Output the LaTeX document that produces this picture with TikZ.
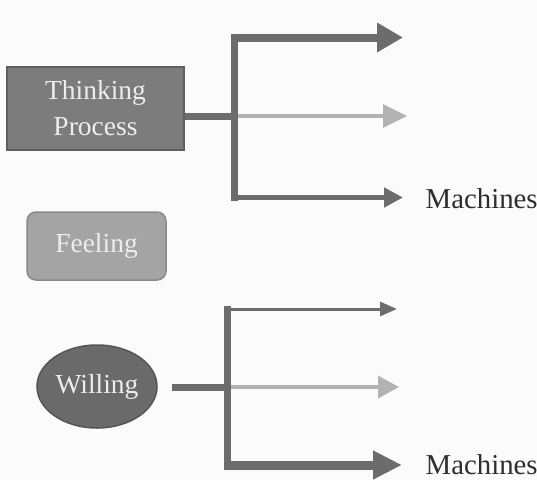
\documentclass[tikz,border=0pt]{standalone}
\usepackage{fontspec}
\setmainfont{Liberation Serif}
\usetikzlibrary{arrows.meta,shapes.geometric}

\definecolor{bgcol}{HTML}{FBFBFB}
\definecolor{darkline}{HTML}{6C6C6C}
\definecolor{lightline}{HTML}{B2B2B2}
\definecolor{thinkfill}{HTML}{7C7C7C}
\definecolor{thinkedge}{HTML}{5E5E5E}
\definecolor{feelfill}{HTML}{A4A4A4}
\definecolor{feeledge}{HTML}{8A8A8A}
\definecolor{willfill}{HTML}{6A6A6A}
\definecolor{willedge}{HTML}{555555}
\definecolor{shapetext}{HTML}{EDEDED}
\definecolor{labeltext}{HTML}{2E2E2E}

\tikzset{
  shapelabel/.style={text=shapetext, font=\fontsize{27.5}{36}\selectfont, align=center, inner sep=0pt},
  machlabel/.style={text=labeltext, font=\fontsize{28.8}{32}\selectfont, anchor=west, inner sep=0pt},
  stem/.style={darkline, line width=7pt},
  spine/.style={darkline, line width=7pt},
}

\begin{document}
\begin{tikzpicture}[x=1pt,y=-1pt]
  \fill[bgcol] (0,0) rectangle (537,480);
  \useasboundingbox (0,0) rectangle (537,480);

  % ---- Thinking process and its three outputs ----
  \node[shapelabel, draw=thinkedge, line width=1.5pt, fill=thinkfill,
        minimum width=177pt, minimum height=83pt] (tp) at (95.5,108.5)
        {Thinking\\Process};

  \coordinate (j1) at (234.5,116);
  \coordinate (v1top) at (234.5,33.5);
  \coordinate (v1bot) at (234.5,201);
  \coordinate (a1) at (403,37.5);
  \coordinate (a2) at (407,116);
  \coordinate (a3) at (403,197.5);

  \draw[spine] (v1top) -- (v1bot);
  \draw[stem] (tp.east |- j1) -- (j1);
  \draw[darkline, line width=8pt, -{Triangle[length=26pt,width=28pt]}]
        ([xshift=-3.5pt]v1top |- a1) -- (a1);
  \draw[lightline, line width=3.5pt, -{Triangle[length=24pt,width=23pt]}]
        ([xshift=3.5pt]j1) -- (a2);
  \draw[darkline, line width=5pt, -{Triangle[length=19pt,width=19pt]}]
        ([xshift=-3.5pt]v1bot |- a3) -- (a3);
  \node[machlabel] (m1) at (425.5,199) {Machines};

  % ---- Feeling ----
  \node[shapelabel, draw=feeledge, line width=1.5pt, fill=feelfill,
        rounded corners=9pt, minimum width=139pt, minimum height=68pt]
        (fe) at (96.5,246) {Feeling};

  % ---- Willing and its three outputs ----
  \node[shapelabel, ellipse, draw=willedge, line width=1.5pt, fill=willfill,
        minimum width=120pt, minimum height=83pt] (wi) at (97,386.5) {Willing};

  \coordinate (s2) at (172,387);
  \coordinate (j2) at (227,387);
  \coordinate (v2top) at (227,306);
  \coordinate (v2bot) at (227,469.5);
  \coordinate (b1) at (397,309);
  \coordinate (b2) at (399,387);
  \coordinate (b3) at (402,465);

  \draw[spine] (v2top) -- (v2bot);
  \draw[stem] (s2) -- (j2);
  \draw[darkline, line width=3pt, -{Triangle[length=17pt,width=14pt]}]
        ([xshift=-3.5pt]v2top |- b1) -- (b1);
  \draw[lightline, line width=3.5pt, -{Triangle[length=21pt,width=22pt]}]
        ([xshift=3.5pt]j2) -- (b2);
  \draw[darkline, line width=9pt, -{Triangle[length=29pt,width=27pt]}]
        ([xshift=-3.5pt]v2bot |- b3) -- (b3);
  \node[machlabel] (m2) at (425.5,465) {Machines};
\end{tikzpicture}
\end{document}
